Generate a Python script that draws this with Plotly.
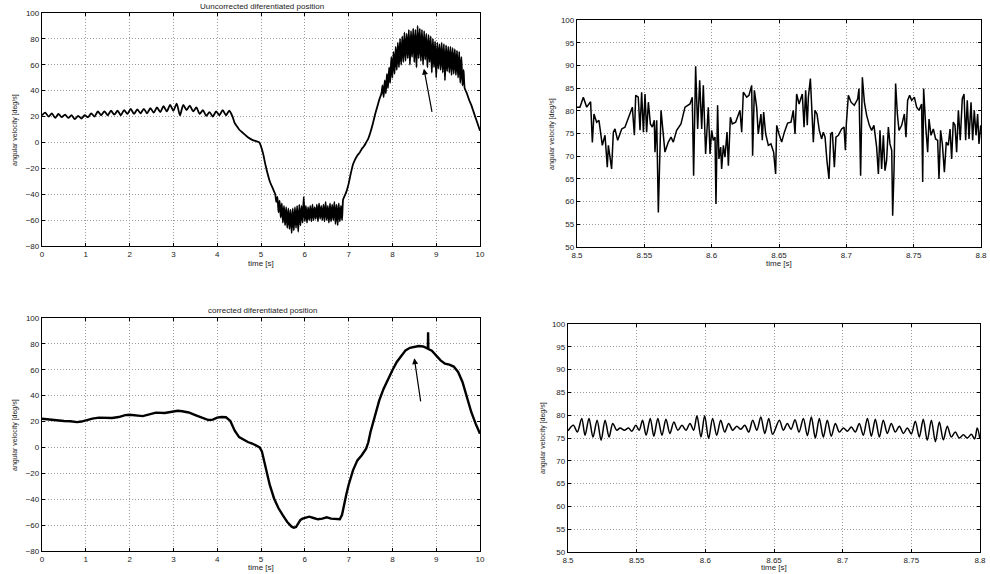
import numpy as np
import plotly.graph_objects as go

# ---------------- Top-left: uncorrected differentiated position (0..10 s) ----------------
tlA_vel = [21, 23, 20, 22.5, 19, 22, 19.5, 21.5, 19, 21, 18, 20.5, 18.5, 21, 19.5, 22.5,
           20, 24, 21, 24, 21, 24.5, 21.5, 24.5, 21, 25, 22, 26, 22, 25.5, 22.5, 26,
           22.5, 26.5, 23, 27, 23.5, 28, 24, 29, 24.5, 30, 21, 29, 25, 28.5, 24, 27,
           22, 25, 20.5, 23.5, 20, 24, 21, 25, 21, 24.5, 20]
tlB_time = [4.40, 4.45, 4.50, 4.60, 4.70, 4.80, 4.90, 4.96, 5.00, 5.05, 5.10, 5.15, 5.20, 5.25, 5.30]
tlB_vel = [15, 12.5, 10, 7, 4, 2, 0.8, 0, -3, -9, -17, -24, -30, -34, -38]
tlC_vel = [-40, -46, -42, -54, -45, -58, -47, -62, -49, -64, -50, -66, -51, -67, -52, -70,
           -51, -68, -50, -66, -49, -69, -48, -64, -49, -62, -42, -61, -49, -62, -50, -60,
           -49, -61, -48, -60, -50, -59, -48, -61, -47, -59, -49, -60, -48, -61, -46, -60,
           -49, -62, -47, -61, -48, -60, -46, -63, -48, -64, -47, -61, -49, -60, -44]
tlD_time = [6.90, 6.95, 7.00, 7.05, 7.10, 7.15, 7.20, 7.25, 7.30, 7.35, 7.40, 7.45,
            7.50, 7.55, 7.60, 7.65, 7.70, 7.75]
tlD_vel = [-42, -38, -32, -24, -17, -13, -10, -8, -5, -3, 0, 3, 8, 14, 21, 27, 33, 38]
tlE_vel = [44, 35, 48, 38, 53, 42, 58, 46, 66, 50, 70, 53, 74, 56, 77, 58, 80, 60, 82, 62,
           85, 63, 84, 65, 87, 60, 86, 66, 88, 62, 87, 58, 90, 65, 88, 63, 87, 60, 86, 64,
           84, 58, 83, 62, 82, 54, 80, 58, 78, 50, 77, 57, 76, 56, 77, 54, 76, 48, 75, 55,
           74, 54, 74, 52, 73, 53, 72, 52, 71, 50, 70, 46, 66, 44, 56, 42]
tlF_time = [9.70, 9.75, 9.80, 9.85, 9.90, 9.95, 10.0]
tlF_vel = [38, 33, 29, 24, 19, 14, 9]

tl_time = np.concatenate([
    np.linspace(0.0, 4.35, len(tlA_vel)), tlB_time,
    np.linspace(5.325, 6.875, len(tlC_vel)), tlD_time,
    np.linspace(7.775, 9.65, len(tlE_vel)), tlF_time])
tl_vel = np.concatenate([tlA_vel, tlB_vel, tlC_vel, tlD_vel, tlE_vel, tlF_vel])

# ---------------- Bottom-left: corrected differentiated position ----------------
bl_time = [0.0, 0.15, 0.3, 0.5, 0.65, 0.8, 0.9, 1.0, 1.15, 1.3, 1.45, 1.6, 1.75, 1.9, 2.0,
           2.15, 2.3, 2.45, 2.6, 2.8, 2.9, 3.0, 3.1, 3.2, 3.35, 3.5, 3.65, 3.8, 3.9, 4.0,
           4.1, 4.2, 4.3, 4.4, 4.5, 4.6, 4.7, 4.8, 4.9, 4.97, 5.02, 5.07, 5.1, 5.15, 5.2,
           5.3, 5.4, 5.5, 5.6, 5.7, 5.75, 5.8, 5.85, 5.9, 5.95, 6.0, 6.1, 6.2, 6.3, 6.4,
           6.5, 6.6, 6.7, 6.8, 6.85, 6.9, 6.95, 7.0, 7.1, 7.2, 7.3, 7.4, 7.45, 7.5, 7.6,
           7.7, 7.8, 7.9, 8.0, 8.1, 8.2, 8.3, 8.4, 8.5, 8.6, 8.7, 8.8, 8.81, 8.815, 8.82,
           8.9, 9.0, 9.1, 9.2, 9.3, 9.4, 9.5, 9.6, 9.7, 9.8, 9.9, 10.0]
bl_vel = [22.2, 21.5, 21, 20.4, 20.2, 19.6, 20, 21, 22.3, 23, 23, 22.8, 23.5, 25, 25.3,
          24.6, 24.2, 25.5, 26.9, 26.6, 27.3, 28, 28.3, 28, 27, 25, 23, 21.2, 21.5, 23,
          23.5, 23.3, 20.5, 13, 8, 6, 4.2, 3, 1.2, 0, -3, -10, -16, -23, -29,
          -39.6, -47, -52.5, -57.6, -61.2, -62, -61.5, -59, -56, -55, -54.5, -53.5, -54.5, -55.5, -55,
          -54, -55, -55.5, -55.5, -52, -43, -36, -29, -17.7, -10, -6, -1, 4, 12, 25,
          36.4, 45.4, 53, 59.6, 66, 71, 75, 77, 77.6, 78.4, 78, 76.5, 76.3, 89, 76,
          74.8, 71, 67.3, 64.7, 64, 62.5, 58.3, 50.6, 39, 27.4, 18.4, 10.6]

# ---------------- Top-right: zoom of uncorrected 8.5..8.8 s ----------------
tr_time = [8.5000, 8.5005, 8.5022, 8.5047, 8.5072, 8.5101, 8.5114, 8.5126, 8.5146, 8.5163,
           8.5188, 8.5208, 8.5225, 8.5233, 8.5257, 8.5270, 8.5282, 8.5302, 8.5332, 8.5356,
           8.5381, 8.5411, 8.5426, 8.5436, 8.5455, 8.5468, 8.5480, 8.5493, 8.5505, 8.5517,
           8.5530, 8.5545, 8.5559, 8.5574, 8.5579, 8.5592, 8.5604, 8.5624, 8.5653, 8.5678,
           8.5698, 8.5715, 8.5740, 8.5772, 8.5802, 8.5839, 8.5856, 8.5866, 8.5881, 8.5896,
           8.5911, 8.5926, 8.5938, 8.5955, 8.5975, 8.5988, 8.6000, 8.6012, 8.6025, 8.6032,
           8.6044, 8.6054, 8.6067, 8.6074, 8.6087, 8.6099, 8.6114, 8.6124, 8.6139, 8.6153,
           8.6178, 8.6210, 8.6223, 8.6235, 8.6260, 8.6277, 8.6297, 8.6304, 8.6317, 8.6334,
           8.6346, 8.6366, 8.6376, 8.6386, 8.6401, 8.6421, 8.6440, 8.6460, 8.6475, 8.6483,
           8.6500, 8.6520, 8.6540, 8.6564, 8.6589, 8.6606, 8.6619, 8.6631, 8.6649, 8.6663,
           8.6673, 8.6686, 8.6698, 8.6710, 8.6718, 8.6733, 8.6748, 8.6755, 8.6767, 8.6782,
           8.6799, 8.6817, 8.6829, 8.6842, 8.6856, 8.6871, 8.6884, 8.6896, 8.6911, 8.6923,
           8.6941, 8.6965, 8.6983, 8.6993, 8.7000, 8.7015, 8.7035, 8.7059, 8.7084, 8.7094,
           8.7106, 8.7119, 8.7134, 8.7151, 8.7171, 8.7188, 8.7205, 8.7225, 8.7238, 8.7250,
           8.7262, 8.7275, 8.7287, 8.7299, 8.7312, 8.7324, 8.7337, 8.7344, 8.7354, 8.7366,
           8.7379, 8.7391, 8.7411, 8.7431, 8.7443, 8.7455, 8.7470, 8.7485, 8.7505, 8.7522,
           8.7540, 8.7559, 8.7567, 8.7574, 8.7589, 8.7604, 8.7614, 8.7629, 8.7646, 8.7663,
           8.7678, 8.7688, 8.7700, 8.7713, 8.7728, 8.7742, 8.7757, 8.7770, 8.7782, 8.7794,
           8.7807, 8.7819, 8.7832, 8.7846, 8.7861, 8.7874, 8.7886, 8.7898, 8.7911, 8.7926,
           8.7938, 8.7950, 8.7963, 8.7975, 8.7985, 8.7998]
tr_vel = [80.8, 80.8, 80.8, 83.0, 80.8, 82.0, 73.0, 79.3, 77.5, 77.9,
          72.4, 74.6, 67.6, 72.4, 67.2, 75.3, 76.0, 73.5, 76.0, 76.4,
          78.6, 80.8, 74.6, 83.4, 83.0, 75.7, 84.1, 75.3, 83.7, 75.3,
          81.9, 77.1, 76.4, 77.9, 70.9, 77.9, 57.6, 80.1, 70.9, 73.1,
          74.2, 73.1, 75.7, 77.1, 80.8, 81.5, 83.0, 65.7, 89.8, 76.0,
          86.7, 76.0, 85.6, 70.5, 80.8, 70.5, 75.7, 73.5, 74.2, 59.5,
          81.2, 69.4, 72.0, 67.2, 72.4, 69.8, 75.3, 67.9, 78.6, 77.1,
          77.5, 80.1, 75.3, 84.1, 83.0, 83.4, 85.6, 70.1, 84.5, 80.8,
          74.9, 79.3, 73.5, 79.7, 74.9, 72.4, 72.7, 70.9, 66.1, 76.8,
          74.9, 73.1, 75.3, 77.3, 77.5, 80.1, 74.9, 83.7, 81.5, 83.0,
          83.7, 76.4, 84.5, 76.8, 83.0, 87.1, 77.9, 73.1, 80.1, 79.3,
          75.7, 73.8, 75.3, 74.2, 69.0, 65.0, 74.9, 75.3, 67.6, 74.2,
          74.6, 76.0, 76.4, 71.3, 77.1, 83.4, 81.9, 81.2, 82.6, 84.9,
          65.7, 87.4, 81.9, 79.0, 76.8, 75.7, 76.8, 72.0, 66.1, 75.7,
          67.2, 74.6, 66.8, 69.0, 76.4, 72.7, 71.3, 56.9, 66.8, 86.0,
          79.3, 75.7, 76.8, 79.3, 74.2, 82.3, 83.4, 82.3, 83.0, 80.8,
          80.1, 81.5, 64.3, 84.9, 76.8, 70.9, 78.2, 74.6, 76.0, 73.8,
          73.5, 65.0, 75.7, 72.7, 66.5, 73.1, 72.4, 76.0, 69.4, 77.5,
          76.8, 70.9, 80.1, 73.5, 82.6, 83.7, 73.5, 82.3, 73.8, 81.9,
          73.5, 80.1, 74.6, 79.3, 72.7, 76.8]

# ---------------- Bottom-right: zoom of corrected 8.5..8.8 s ----------------
br_time = [8.5000, 8.5039, 8.5068, 8.5100, 8.5124, 8.5153, 8.5182, 8.5212, 8.5241, 8.5270,
           8.5299, 8.5326, 8.5355, 8.5380, 8.5411, 8.5440, 8.5465, 8.5494, 8.5518, 8.5543,
           8.5569, 8.5599, 8.5625, 8.5654, 8.5684, 8.5713, 8.5742, 8.5771, 8.5800, 8.5830,
           8.5859, 8.5888, 8.5915, 8.5939, 8.5968, 8.5995, 8.6024, 8.6053, 8.6083, 8.6112,
           8.6141, 8.6170, 8.6199, 8.6229, 8.6258, 8.6287, 8.6316, 8.6345, 8.6375, 8.6404,
           8.6433, 8.6462, 8.6490, 8.6539, 8.6568, 8.6597, 8.6624, 8.6653, 8.6682, 8.6714,
           8.6743, 8.6772, 8.6801, 8.6830, 8.6859, 8.6888, 8.6917, 8.6947, 8.6976, 8.7005,
           8.7034, 8.7063, 8.7092, 8.7121, 8.7150, 8.7180, 8.7209, 8.7238, 8.7267, 8.7296,
           8.7325, 8.7354, 8.7383, 8.7413, 8.7442, 8.7471, 8.7500, 8.7529, 8.7558, 8.7587,
           8.7616, 8.7646, 8.7675, 8.7704, 8.7733, 8.7762, 8.7791, 8.7820, 8.7849, 8.7879,
           8.7908, 8.7937, 8.7961, 8.7980, 8.7999]
br_vel = [76.6, 77.8, 76.3, 79.3, 75.6, 79.3, 75.2, 78.9, 74.5, 78.9,
          75.2, 78.2, 76.7, 77.2, 76.7, 77.2, 76.5, 77.8, 76.7, 78.9,
          75.6, 79.3, 75.4, 79.3, 75.6, 79.1, 76.0, 78.5, 76.7, 77.8,
          76.7, 78.2, 76.7, 79.9, 75.2, 79.9, 74.9, 79.3, 75.6, 78.9,
          76.3, 78.2, 76.7, 77.6, 76.9, 77.8, 76.3, 78.9, 76.7, 79.6,
          76.0, 79.3, 75.8, 78.9, 76.7, 78.2, 76.9, 79.0, 76.3, 79.3,
          75.5, 79.6, 75.0, 79.3, 75.2, 78.9, 75.4, 78.2, 76.3, 77.2,
          76.5, 77.4, 76.3, 78.2, 75.6, 79.3, 75.4, 79.1, 75.2, 78.9,
          76.0, 78.2, 76.3, 77.6, 76.0, 77.2, 75.9, 78.7, 75.2, 79.1,
          74.5, 78.9, 74.2, 78.5, 74.6, 77.6, 75.2, 76.3, 75.0, 75.7,
          75.0, 75.8, 74.8, 77.2, 74.8]

# ---------------- tick labels / texts ----------------
big_xticks = [0, 1, 2, 3, 4, 5, 6, 7, 8, 9, 10]
big_yticks = [-80, -60, -40, -20, 0, 20, 40, 60, 80, 100]
zoom_xticks = [8.5, 8.55, 8.6, 8.65, 8.7, 8.75, 8.8]
zoom_xtext = ["8.5", "8.55", "8.6", "8.65", "8.7", "8.75", "8.8"]
zoom_yticks = [50, 55, 60, 65, 70, 75, 80, 85, 90, 95, 100]
title_top = "Uuncorrected diferentiated position"
title_bottom = "corrected diferentiated position"
xlabel = "time [s]"
ylabel = "angular velocity [deg/s]"

FONT = "Liberation Sans, Arial, Helvetica, sans-serif"
W, H = 990, 574

def px_x(p):
    return p / W

def px_y(p):
    return 1 - p / H

fig = go.Figure()
fig.add_trace(go.Scatter(x=tl_time, y=tl_vel, mode="lines",
                         line=dict(color="black", width=1.8, shape="spline", smoothing=0.7),
                         xaxis="x", yaxis="y", showlegend=False))
fig.add_trace(go.Scatter(x=tr_time, y=tr_vel, mode="lines", line=dict(color="black", width=1.5),
                         xaxis="x2", yaxis="y2", showlegend=False))
fig.add_trace(go.Scatter(x=bl_time, y=bl_vel, mode="lines", line=dict(color="black", width=2.4),
                         xaxis="x3", yaxis="y3", showlegend=False))
fig.add_trace(go.Scatter(x=br_time, y=br_vel, mode="lines",
                         line=dict(color="black", width=1.5, shape="spline", smoothing=0.9),
                         xaxis="x4", yaxis="y4", showlegend=False))

def axis_common():
    return dict(showline=True, linecolor="black", linewidth=1.3, mirror="ticks",
                ticks="inside", ticklen=3, tickcolor="black", automargin=False,
                showgrid=True, gridcolor="#9a9a9a", griddash="1px,2px", gridwidth=1,
                zeroline=False, tickfont=dict(family=FONT, size=8, color="#222"),
                fixedrange=True)

# domains (pixel-measured)
dom = {
    "tl": ([42, 480], [13, 246]),
    "tr": ([577, 981], [20, 247]),
    "bl": ([42, 480], [318, 551]),
    "br": ([568, 980], [324, 552]),
}

def xd(k):
    a, b = dom[k][0]
    return [px_x(a), px_x(b)]

def yd(k):
    t, b = dom[k][1]
    return [px_y(b), px_y(t)]

layout = dict(width=W, height=H, margin=dict(l=0, r=0, t=0, b=0, autoexpand=False),
              paper_bgcolor="white", plot_bgcolor="white", showlegend=False)

ax = axis_common(); ax.update(domain=xd("tl"), range=[0, 10], tickmode="array", tickvals=big_xticks, anchor="y")
layout["xaxis"] = ax
ax = axis_common(); ax.update(domain=yd("tl"), range=[-80, 100], tickmode="array", tickvals=big_yticks, anchor="x")
layout["yaxis"] = ax
ax = axis_common(); ax.update(domain=xd("tr"), range=[8.5, 8.8], tickmode="array", tickvals=zoom_xticks, ticktext=zoom_xtext, anchor="y2")
layout["xaxis2"] = ax
ax = axis_common(); ax.update(domain=yd("tr"), range=[50, 100], tickmode="array", tickvals=zoom_yticks, anchor="x2")
layout["yaxis2"] = ax
ax = axis_common(); ax.update(domain=xd("bl"), range=[0, 10], tickmode="array", tickvals=big_xticks, anchor="y3")
layout["xaxis3"] = ax
ax = axis_common(); ax.update(domain=yd("bl"), range=[-80, 100], tickmode="array", tickvals=big_yticks, anchor="x3")
layout["yaxis3"] = ax
ax = axis_common(); ax.update(domain=xd("br"), range=[8.5, 8.8], tickmode="array", tickvals=zoom_xticks, ticktext=zoom_xtext, anchor="y4")
layout["xaxis4"] = ax
ax = axis_common(); ax.update(domain=yd("br"), range=[50, 100], tickmode="array", tickvals=zoom_yticks, anchor="x4")
layout["yaxis4"] = ax

fig.update_layout(**layout)

def text_ann(x, y, text, size=8, angle=0):
    fig.add_annotation(x=x, y=y, xref="paper", yref="paper", text=text, showarrow=False,
                       textangle=angle, xanchor="center", yanchor="middle",
                       font=dict(family=FONT, size=size, color="#222"))

text_ann(px_x(262), px_y(6), title_top)
text_ann(px_x(262), px_y(310), title_bottom)
text_ann(px_x(261), px_y(263), xlabel)
text_ann(px_x(779), px_y(263), xlabel)
text_ann(px_x(261), px_y(567.5), xlabel)
text_ann(px_x(774), px_y(567.5), xlabel)
text_ann(px_x(15), px_y(130), ylabel, size=7, angle=-90)
text_ann(px_x(552), px_y(134), ylabel, size=7, angle=-90)
text_ann(px_x(15), px_y(435), ylabel, size=7, angle=-90)
text_ann(px_x(543), px_y(438), ylabel, size=7, angle=-90)

# arrows
fig.add_annotation(x=8.72, y=57, ax=8.91, ay=22.5, xref="x", yref="y", axref="x", ayref="y",
                   showarrow=True, arrowhead=2, arrowsize=1, arrowwidth=1.2, arrowcolor="black", text="")
fig.add_annotation(x=8.50, y=69, ax=8.65, ay=34.5, xref="x3", yref="y3", axref="x3", ayref="y3",
                   showarrow=True, arrowhead=2, arrowsize=1, arrowwidth=1.2, arrowcolor="black", text="")

fig.write_html("out.html", config={"displayModeBar": False},
               post_script="document.body.style.margin='0';document.body.style.overflow='hidden';")
